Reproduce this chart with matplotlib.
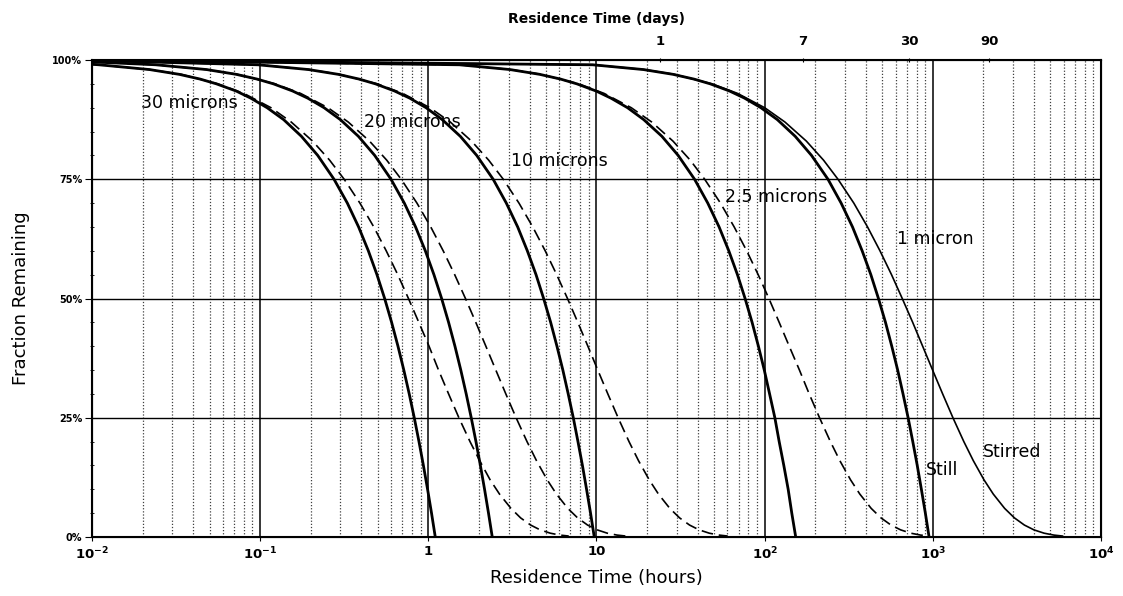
import matplotlib
matplotlib.use("Agg")
import matplotlib.pyplot as plt
from matplotlib.ticker import FixedLocator, NullFormatter, NullLocator

plt.rcParams['font.family'] = ['DejaVu Sans']
plt.rcParams['mathtext.default'] = 'regular'

sizes = ["30 microns", "20 microns", "10 microns", "2.5 microns", "1 micron"]

# value at the left edge (0.01 h) for each size
start_still = [0.991, 0.996, 0.999, 1.0, 1.0]
start_stir = [0.991, 0.996, 0.999, 1.0, 1.0]

# "Still" curves: hours at which each curve crosses these fraction levels
still_levels = [0.99, 0.98, 0.97, 0.96, 0.95, 0.935, 0.92, 0.9, 0.875, 0.84, 0.8, 0.75, 0.7,
                0.65, 0.6, 0.55, 0.5, 0.45, 0.4, 0.35, 0.3, 0.25, 0.2, 0.15, 0.1, 0.05, 0.0]
still_30 = [0.011, 0.022, 0.033, 0.044, 0.055, 0.072, 0.088, 0.11, 0.138, 0.176, 0.22, 0.275, 0.33,
            0.385, 0.44, 0.495, 0.55, 0.605, 0.66, 0.715, 0.77, 0.825, 0.88, 0.935, 0.99, 1.045, 1.1]
still_20 = [0.024, 0.048, 0.072, 0.096, 0.12, 0.156, 0.192, 0.24, 0.3, 0.384, 0.48, 0.6, 0.72,
            0.84, 0.96, 1.08, 1.2, 1.32, 1.44, 1.56, 1.68, 1.8, 1.92, 2.04, 2.16, 2.28, 2.4]
still_10 = [0.097, 0.194, 0.291, 0.388, 0.485, 0.63, 0.776, 0.97, 1.21, 1.55, 1.94, 2.43, 2.91,
            3.4, 3.88, 4.37, 4.85, 5.34, 5.82, 6.31, 6.79, 7.28, 7.76, 8.25, 8.73, 9.22, 9.7]
still_2_5 = [1.53, 3.06, 4.59, 6.12, 7.65, 9.95, 12.2, 15.3, 19.1, 24.5, 30.6, 38.3, 45.9,
             53.6, 61.2, 68.9, 76.5, 84.2, 91.8, 99.5, 107, 115, 122, 130, 138, 145, 153]
still_1 = [9.5, 19, 28.5, 38, 47.5, 61.8, 76, 95, 119, 152, 190, 238, 285,
           333, 380, 428, 475, 523, 570, 618, 665, 713, 760, 808, 855, 903, 950]

# "Stirred" curves: same idea, own levels
stir_levels = [0.99, 0.98, 0.97, 0.95, 0.93, 0.9, 0.87, 0.83, 0.79, 0.75, 0.7, 0.65, 0.6, 0.55,
               0.5, 0.45, 0.4, 0.35, 0.3, 0.25, 0.2, 0.16, 0.12, 0.09, 0.06, 0.04, 0.025, 0.015,
               0.008, 0.004, 0.002]
stir_30 = [0.011, 0.022, 0.034, 0.056, 0.08, 0.116, 0.153, 0.205, 0.259, 0.316, 0.392, 0.474,
           0.562, 0.658, 0.762, 0.878, 1.01, 1.15, 1.32, 1.52, 1.77, 2.02, 2.33, 2.65, 3.1, 3.54,
           4.06, 4.62, 5.31, 6.07, 6.84]
stir_20 = [0.024, 0.048, 0.073, 0.123, 0.174, 0.253, 0.334, 0.447, 0.566, 0.69, 0.856, 1.034,
           1.226, 1.435, 1.663, 1.916, 2.199, 2.52, 2.89, 3.327, 3.863, 4.398, 5.089, 5.779, 6.752,
           7.725, 8.853, 10.08, 11.59, 13.25, 14.92]
stir_10 = [0.0975, 0.196, 0.296, 0.498, 0.704, 1.022, 1.351, 1.807, 2.286, 2.791, 3.46, 4.179,
           4.955, 5.799, 6.723, 7.745, 8.888, 10.18, 11.68, 13.45, 15.61, 17.78, 20.57, 23.36,
           27.29, 31.22, 35.78, 40.74, 46.83, 53.56, 60.28]
stir_2_5 = [1.54, 3.09, 4.67, 7.85, 11.1, 16.1, 21.3, 28.5, 36.1, 44.0, 54.6, 65.9, 78.2, 91.5,
            106, 122, 140, 161, 184, 212, 246, 280, 324, 368, 430, 492, 564, 643, 739, 845, 951]
stir_1 = [9.55, 19.2, 29.0, 48.7, 69.0, 100, 132, 177, 224, 273, 339, 409, 485, 568, 658, 759,
          870, 997, 1144, 1317, 1529, 1741, 2014, 2288, 2673, 3058, 3504, 3990, 4587, 5245, 5904]

x_ticks = [1e-2, 1e-1, 1, 10, 1e2, 1e3, 1e4]
x_tick_labels = ["10$^{-2}$", "10$^{-1}$", "1", "10", "10$^{2}$", "10$^{3}$", "10$^{4}$"]
y_ticks = [0, 0.25, 0.5, 0.75, 1.0]
y_tick_labels = ["0%", "25%", "50%", "75%", "100%"]
day_ticks = [1, 7, 30, 90]

# where the curve names sit (hours, fraction)
label_x = [0.0196, 0.415, 3.09, 58.5, 614]
label_y = [0.91, 0.87, 0.788, 0.713, 0.625]

fig = plt.figure(figsize=(11.23, 5.96), dpi=100)
ax = fig.add_axes([0.0819, 0.099, 0.8985, 0.8003])
ax.set_xscale('log')
ax.set_xlim(1e-2, 1e4)
ax.set_ylim(0, 1.0)

# grid: dotted minor verticals, solid decades and quartiles
for dec in [1e-2, 1e-1, 1, 10, 1e2, 1e3]:
    for m in range(2, 10):
        ax.axvline(dec * m, color='0.25', lw=0.9, ls=(0, (1, 1.5)), zorder=1)
for dec in [1e-1, 1, 10, 1e2, 1e3]:
    ax.axvline(dec, color='black', lw=1.1, zorder=1)
for yy in [0.25, 0.5, 0.75]:
    ax.axhline(yy, color='black', lw=1.0, zorder=1)

still = [still_30, still_20, still_10, still_2_5, still_1]
stirred = [stir_30, stir_20, stir_10, stir_2_5, stir_1]

for i in range(len(sizes)):
    ax.plot([0.01] + still[i], [start_still[i]] + still_levels, color='black', lw=2.0,
            zorder=3, solid_capstyle='butt')
    ls = (0, (7, 3.5)) if i < 4 else '-'
    ax.plot([0.01] + stirred[i], [start_stir[i]] + stir_levels, color='black', lw=1.2,
            zorder=3, ls=ls)
    ax.text(label_x[i], label_y[i], sizes[i], fontsize=12.5, va='center', ha='left', zorder=4)

ax.text(915, 0.14, "Still", fontsize=12.5, va='center', ha='left')
ax.text(1977, 0.178, "Stirred", fontsize=12.5, va='center', ha='left')

# axes, ticks
ax.xaxis.set_major_locator(FixedLocator(x_ticks))
ax.set_xticklabels(x_tick_labels, fontsize=9.5, fontweight='bold')
ax.xaxis.set_minor_locator(NullLocator())
ax.xaxis.set_minor_formatter(NullFormatter())
ax.tick_params(axis='x', which='major', length=3, direction='out', pad=3)

ax.set_yticks(y_ticks)
ax.set_yticklabels(y_tick_labels, fontsize=7, fontweight='bold')
ax.yaxis.set_minor_locator(FixedLocator([i * 0.05 for i in range(21)]))
ax.tick_params(axis='y', which='major', length=5, direction='out', pad=2)
ax.tick_params(axis='y', which='minor', length=3, direction='inout')

for sp in ax.spines.values():
    sp.set_linewidth(1.5)

ax.set_xlabel("Residence Time (hours)", fontsize=13, labelpad=5)
ax.set_ylabel("Fraction Remaining", fontsize=13, labelpad=16)

# second scale on top in days
ax2 = ax.twiny()
ax2.set_xscale('log')
ax2.set_xlim(1e-2 / 24, 1e4 / 24)
ax2.xaxis.set_major_locator(FixedLocator(day_ticks))
ax2.set_xticklabels([str(d) for d in day_ticks], fontsize=9.5, fontweight='bold')
ax2.xaxis.set_minor_locator(NullLocator())
ax2.tick_params(axis='x', which='major', length=3, direction='inout', pad=7)
ax2.set_xlabel("Residence Time (days)", fontsize=10, fontweight='bold', labelpad=9)

fig.savefig("out.png", dpi=100)
